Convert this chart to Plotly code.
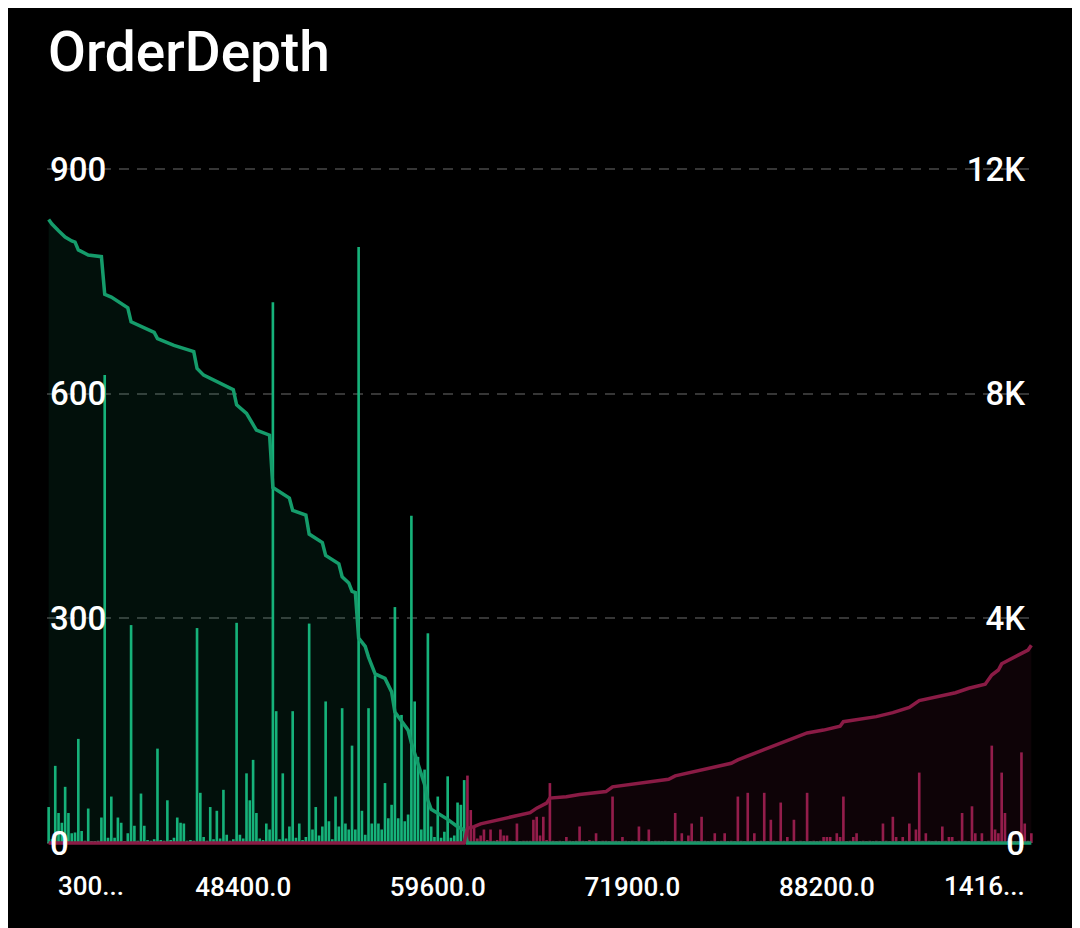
import plotly.graph_objects as go

# Price levels in hundreds (category labels), left to right
price_hundreds = [
    300, 303, 306, 309, 312, 316, 319, 322, 325, 328, 331, 334, 337, 341, 344, 347, 350, 353, 356, 359,
    362, 366, 369, 372, 375, 378, 381, 384, 387, 391, 394, 397, 400, 403, 406, 409, 412, 416, 419, 422,
    425, 428, 431, 434, 437, 441, 444, 447, 450, 453, 456, 459, 462, 466, 469, 472, 475, 478, 481, 484,
    486, 488, 490, 492, 493, 495, 497, 499, 501, 503, 505, 507, 509, 511, 512, 514, 516, 518, 520, 522,
    524, 526, 528, 530, 531, 533, 535, 537, 539, 541, 543, 545, 547, 549, 550, 552, 554, 556, 558, 560,
    562, 564, 566, 568, 569, 571, 573, 575, 577, 579, 581, 583, 585, 587, 588, 590, 592, 594, 596,
    598, 600, 602, 604, 606, 609, 611, 613, 615, 617, 619, 621, 623, 625, 627, 629, 631, 634, 636, 638,
    640, 642, 644, 646, 648, 650, 652, 654, 656, 659, 661, 663, 665, 667, 669, 671, 673, 675, 677, 679,
    681, 684, 686, 688, 690, 692, 694, 696, 698, 700, 702, 704, 706, 709, 711, 713, 715, 717, 719,
    722, 725, 728, 730, 733, 736, 739, 741, 744, 747, 750, 752, 755, 758, 761, 763, 766, 769, 772, 774,
    777, 780, 783, 785, 788, 791, 794, 796, 799, 802, 805, 807, 810, 813, 816, 818, 821, 824, 827, 829,
    832, 835, 838, 840, 843, 846, 849, 851, 854, 857, 860, 862, 865, 868, 871, 873, 876, 879, 882,
    887, 892, 898, 904, 910, 916, 923, 930, 937, 944,
    949, 954, 960, 966, 972, 978, 985, 992, 999, 1006,
    1011, 1016, 1022, 1028, 1034, 1040, 1047, 1054, 1061, 1068,
    1073, 1078, 1084, 1090, 1096, 1102, 1109, 1116, 1123, 1130,
    1135, 1140, 1146, 1152, 1158, 1164, 1171, 1178, 1185, 1192,
    1202, 1214, 1227, 1241, 1256, 1272, 1290, 1310, 1332, 1357, 1385, 1416,
]

# Bid quantity per level (first 127 levels)
bid_qty = [
    48, 5, 103, 40, 27, 75, 40, 13, 14, 139,
    16, 3, 46, 2, 2, 3, 34, 625, 7, 62,
    7, 34, 27, 2, 13, 291, 23, 3, 66, 23,
    4, 3, 5, 126, 4, 3, 57, 4, 7, 34,
    27, 26, 3, 4, 3, 287, 67, 8, 3, 48,
    5, 43, 6, 71, 11, 3, 5, 294, 11, 6,
    93, 57, 111, 40, 6, 4, 26, 18, 722, 176,
    5, 93, 6, 22, 176, 7, 26, 4, 8, 293,
    18, 48, 10, 22, 189, 29, 5, 62, 22, 180,
    26, 18, 130, 18, 796, 43, 11, 180, 26, 224,
    26, 18, 80, 33, 51, 315, 33, 171, 29, 38,
    437, 189, 115, 18, 98, 280, 22, 8, 62, 7,
    15, 89, 7, 10, 54, 51, 84,
]

# Ask quantity per level (remaining 172 levels)
ask_qty = [
    90, 44, 22, 6, 10, 18, 4, 18, 3, 4,
    18, 10, 10, 3, 2, 26, 2, 3, 3, 3,
    31, 35, 10, 35, 4, 80, 3, 2, 3, 2,
    8, 3, 2, 3, 22, 3, 2, 4, 3, 13,
    2, 3, 3, 2, 62, 3, 2, 8, 3, 2,
    3, 2, 22, 3, 2, 18, 2, 3, 3, 2,
    3, 2, 2, 40, 3, 13, 2, 10, 26, 3,
    2, 35, 3, 2, 3, 13, 2, 3, 13, 2,
    3, 2, 62, 3, 2, 67, 3, 13, 2, 3,
    67, 2, 31, 3, 2, 54, 3, 8, 2, 31,
    2, 3, 2, 67, 2, 3, 2, 3, 8, 8,
    8, 2, 13, 8, 62, 2, 3, 8, 13, 2,
    3, 2, 3, 2, 3, 2, 26, 3, 2, 35,
    8, 2, 8, 3, 26, 2, 18, 94, 3, 13,
    3, 2, 3, 2, 22, 3, 8, 8, 2, 3,
    40, 3, 2, 49, 13, 2, 13, 2, 3, 130,
    18, 13, 94, 40, 3, 3, 2, 2, 121, 26,
    3, 13,
]

# Cumulative depth (right axis), read at the corners of the curve
bid_line_level = [0, 1, 3, 5, 7, 8, 9, 12, 16, 17, 19, 24, 25, 32, 33, 38, 44, 45, 47, 52,
                  56, 57, 60, 63, 67, 68, 71, 73, 74, 78, 79, 83, 84, 88, 89, 91, 92, 93, 94, 96,
                  97, 99, 102, 104, 105, 107, 109, 110, 112, 114, 115, 116, 118, 121, 124, 126, 127, 298]
bid_line_total = [11100, 11020, 10900, 10790, 10720, 10700, 10560, 10470, 10440, 9770,
                  9720, 9530, 9280, 9090, 8980, 8860, 8750, 8450, 8330, 8180,
                  8070, 7800, 7650, 7350, 7260, 6330, 6220, 6140, 5920, 5840,
                  5500, 5350, 5120, 4970, 4740, 4630, 4480, 4460, 3650, 3500,
                  3310, 3010, 2930, 2690, 2330, 2160, 2010, 1780, 1400, 1040,
                  760, 600, 530, 420, 290, 230, 0, 0]

ask_line_level = [0, 126, 127, 129, 131, 135, 139, 143, 146, 148, 151, 152, 157, 161, 169, 171,
                  177, 188, 190, 198, 207, 209, 212, 217, 221, 226, 230, 235, 240, 241, 251, 256,
                  261, 264, 269, 275, 279, 284, 286, 288, 289, 295, 297, 298]
ask_line_total = [0, 0, 260, 290, 340, 390, 440, 500, 540, 620, 710, 800, 825, 865, 915, 1000,
                  1045, 1135, 1195, 1300, 1420, 1480, 1550, 1655, 1760, 1860, 1960, 2010, 2080, 2160,
                  2250, 2320, 2415, 2535, 2595, 2675, 2755, 2825, 2990, 3080, 3190, 3380, 3435, 3520]

left_ticks = [0, 300, 600, 900]
right_ticks = [0, 4000, 8000, 12000]
right_tick_text = ["0", "4K", "8K", "12K"]
x_tick_levels = [59, 118, 177, 236]
first_label_text = "300..."
last_label_text = "1416..."

labels = [f"{p * 100:.1f}" for p in price_hundreds]
n_bid = len(bid_qty)

GREEN = "#16b27a"
GREEN_LINE = "#159c6b"
RED = "#951d4c"
RED_LINE = "#8a1b45"
FONT = "Roboto"

# both value axes share the same small pad so the edge grid lines are kept
LEFT_MAX = 900
RIGHT_MAX = 12000
PAD = 2.7

fig = go.Figure()

fig.add_trace(go.Bar(x=labels[:n_bid], y=bid_qty, marker_color=GREEN,
                     marker_line_width=0, name="Bids"))
fig.add_trace(go.Bar(x=labels[n_bid:], y=ask_qty, marker_color=RED,
                     marker_line_width=0, name="Asks"))

fig.add_trace(go.Scatter(
    x=[labels[k] for k in bid_line_level], y=bid_line_total, yaxis="y2",
    mode="lines", line=dict(color=GREEN_LINE, width=3.5),
    fill="tozeroy", fillcolor="rgba(23,173,118,0.09)", name="Bid depth",
))
fig.add_trace(go.Scatter(
    x=[labels[k] for k in ask_line_level], y=ask_line_total, yaxis="y2",
    mode="lines", line=dict(color=RED_LINE, width=3.5),
    fill="tozeroy", fillcolor="rgba(142,28,73,0.10)", name="Ask depth",
))

# the page is drawn with an 8px body margin, so the margins are shifted by 8px
fig.update_layout(
    width=1080, height=928,
    paper_bgcolor="#000000", plot_bgcolor="#000000",
    margin=dict(l=39, r=55, t=159, b=91, autoexpand=False),
    showlegend=False,
    barmode="overlay", bargap=0.2,
    title=dict(text="OrderDepth", x=40 / 1080, xanchor="left",
               y=1 - 44 / 928, yanchor="middle",
               font=dict(family=FONT, size=55, color="#ffffff", weight=500)),
    font=dict(family=FONT, color="#ffffff"),
    xaxis=dict(
        type="category", categoryorder="array", categoryarray=labels,
        range=[-0.5, len(labels) - 0.5],
        showgrid=False, zeroline=False, showline=False, automargin=False,
        tickmode="array", tickvals=[labels[k] for k in x_tick_levels],
        ticktext=[labels[k] for k in x_tick_levels],
        ticks="outside", ticklen=19, tickcolor="rgba(0,0,0,0)",
        tickfont=dict(family=FONT, size=26, color="#ffffff", weight=500),
    ),
    yaxis=dict(
        range=[-PAD, LEFT_MAX + PAD], tickmode="array", tickvals=left_ticks,
        ticktext=[str(v) for v in left_ticks],
        ticklabelposition="inside", ticklabeloverflow="allow", automargin=False,
        showgrid=True, gridcolor="#363636", griddash="10px,8px", gridwidth=1.5,
        zeroline=False, showline=False,
        tickfont=dict(family=FONT, size=33, color="#ffffff", weight=500),
    ),
    yaxis2=dict(
        range=[-PAD * RIGHT_MAX / LEFT_MAX, RIGHT_MAX + PAD * RIGHT_MAX / LEFT_MAX],
        overlaying="y", side="right",
        tickmode="array", tickvals=right_ticks, ticktext=right_tick_text,
        ticklabelposition="inside", ticklabeloverflow="allow", automargin=False,
        ticklabelstandoff=5,
        showgrid=False, zeroline=False, showline=False,
        tickfont=dict(family=FONT, size=33, color="#ffffff", weight=500),
    ),
    annotations=[
        dict(text=first_label_text, xref="paper", yref="paper", x=0, y=0,
             xanchor="left", yanchor="middle", xshift=9, yshift=-41, showarrow=False,
             font=dict(family=FONT, size=26, color="#ffffff", weight=500)),
        dict(text=last_label_text, xref="paper", yref="paper", x=1, y=0,
             xanchor="right", yanchor="middle", xshift=-6, yshift=-41, showarrow=False,
             font=dict(family=FONT, size=26, color="#ffffff", weight=500)),
    ],
)

fig.write_html("out.html")
